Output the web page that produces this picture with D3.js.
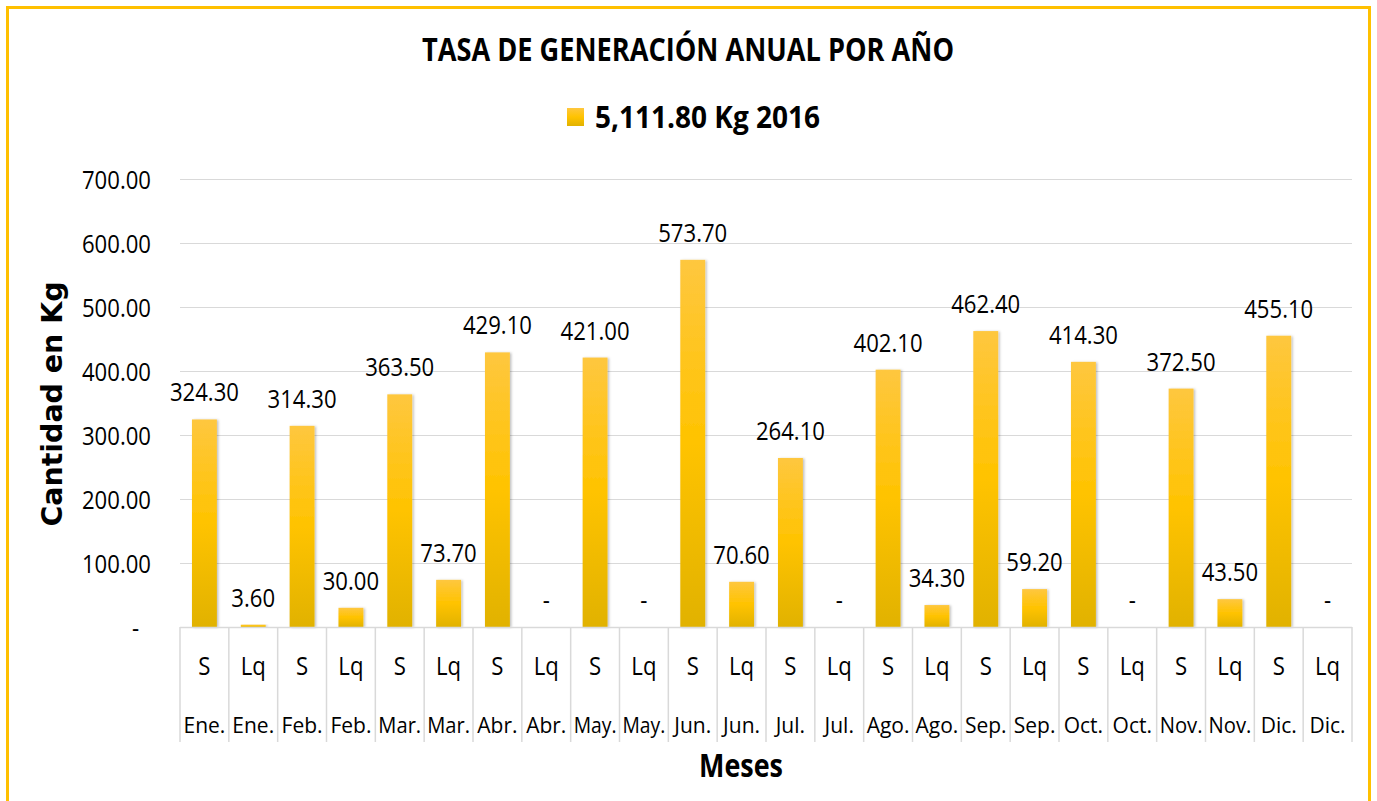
<!DOCTYPE html>
<html>
<head>
<meta charset="utf-8">
<script src="https://cdn.jsdelivr.net/npm/d3@7"></script>
<style>
  html, body { margin: 0; padding: 0; background: #ffffff; }
  svg { display: block; }
</style>
</head>
<body>
<svg id="chart" width="1377" height="801"></svg>
<script>
// ---- Data ----
const subLabels = ["S","Lq","S","Lq","S","Lq","S","Lq","S","Lq","S","Lq","S","Lq","S","Lq","S","Lq","S","Lq","S","Lq","S","Lq"];
const monthLabels = ["Ene.","Ene.","Feb.","Feb.","Mar.","Mar.","Abr.","Abr.","May.","May.","Jun.","Jun.","Jul.","Jul.","Ago.","Ago.","Sep.","Sep.","Oct.","Oct.","Nov.","Nov.","Dic.","Dic."];
const values = [324.30, 3.60, 314.30, 30.00, 363.50, 73.70, 429.10, 0, 421.00, 0, 573.70, 70.60, 264.10, 0, 402.10, 34.30, 462.40, 59.20, 414.30, 0, 372.50, 43.50, 455.10, 0];
const yTicks = [0, 100, 200, 300, 400, 500, 600, 700];
const titleText = "TASA DE GENERACIÓN ANUAL POR AÑO";
const legendText = "5,111.80 Kg 2016";
const yTitle = "Cantidad en Kg";
const xTitle = "Meses";

// ---- Layout ----
const svg = d3.select("#chart");
const plot = { left: 180, right: 1352, top: 179, bottom: 627 };
const FONT = "'Open Sans', 'Noto Sans', sans-serif";
const CONDENSE = 0.885;
const FS = 25;

function condense(sel, f, maxW) {
  sel.each(function() {
    let w = this.getComputedTextLength() * f;
    if (maxW && w > maxW) w = maxW;
    this.setAttribute("textLength", w);
    this.setAttribute("lengthAdjust", "spacingAndGlyphs");
  });
}
function fitTo(sel, w) {
  sel.attr("textLength", w).attr("lengthAdjust", "spacingAndGlyphs");
}

// defs
const defs = svg.append("defs");
const grad = defs.append("linearGradient").attr("id", "barGrad")
  .attr("x1", 0).attr("y1", 0).attr("x2", 0).attr("y2", 1);
grad.append("stop").attr("offset", "0%").attr("stop-color", "#FEC73F");
grad.append("stop").attr("offset", "50%").attr("stop-color", "#FFC300");
grad.append("stop").attr("offset", "100%").attr("stop-color", "#E1B200");
const shadow = defs.append("filter").attr("id", "shadow")
  .attr("x", "-20%").attr("y", "-5%").attr("width", "150%").attr("height", "110%");
shadow.append("feDropShadow").attr("dx", 1.5).attr("dy", 0.5)
  .attr("stdDeviation", 1).attr("flood-color", "#000").attr("flood-opacity", 0.25);

// background + border
svg.append("rect").attr("x", 0).attr("y", 0).attr("width", 1377).attr("height", 801).attr("fill", "#fff");
svg.append("rect").attr("x", 7.5).attr("y", 7.5).attr("width", 1362).attr("height", 820)
  .attr("fill", "none").attr("stroke", "#FFC000").attr("stroke-width", 3);

// scales
const x = d3.scaleBand().domain(d3.range(values.length))
  .range([plot.left, plot.right]).paddingInner(0.49).paddingOuter(0.245);
const y = d3.scaleLinear().domain([0, 700]).range([plot.bottom, plot.top]);

// gridlines
svg.append("g").selectAll("line").data(yTicks.filter(d => d > 0)).join("line")
  .attr("x1", plot.left).attr("x2", plot.right)
  .attr("y1", d => Math.round(y(d)) + 0.5).attr("y2", d => Math.round(y(d)) + 0.5)
  .attr("stroke", "#d9d9d9").attr("stroke-width", 1);

// y axis
const yAxis = svg.append("g").attr("transform", `translate(${151},0)`)
  .call(d3.axisLeft(y).tickValues(yTicks).tickSize(0).tickPadding(0)
    .tickFormat(d => d === 0 ? "-" : d3.format(".2f")(d)));
yAxis.select(".domain").remove();
yAxis.selectAll("text")
  .attr("font-family", FONT).attr("font-size", FS).attr("fill", "#000")
  .attr("dy", "0.36em")
  .attr("dx", d => d === 0 ? -12 : 0);
condense(yAxis.selectAll("text"), CONDENSE);

// bars
svg.append("g").selectAll("rect").data(values).join("rect")
  .attr("x", (d, i) => x(i)).attr("width", x.bandwidth())
  .attr("y", d => y(d)).attr("height", d => y(0) - y(d))
  .attr("fill", "url(#barGrad)").attr("filter", "url(#shadow)");

// value labels
const vl = svg.append("g").selectAll("text").data(values).join("text")
  .attr("x", (d, i) => x(i) + x.bandwidth() / 2)
  .attr("y", d => y(d) - 18)
  .attr("text-anchor", "middle")
  .attr("font-family", FONT).attr("font-size", FS).attr("fill", "#000")
  .text(d => d === 0 ? "-" : d3.format(",.2f")(d));
condense(vl, CONDENSE);

// x axis (multi-level)
const step = x.step();
const x0 = x.range()[0];
const xAxisG = svg.append("g");
xAxisG.append("line").attr("x1", x0).attr("x2", x.range()[1])
  .attr("y1", plot.bottom + 0.5).attr("y2", plot.bottom + 0.5)
  .attr("stroke", "#d9d9d9").attr("stroke-width", 1.5);
xAxisG.selectAll("line.sep").data(d3.range(values.length + 1)).join("line")
  .attr("class", "sep")
  .attr("x1", i => x0 + i * step).attr("x2", i => x0 + i * step)
  .attr("y1", plot.bottom).attr("y2", 742)
  .attr("stroke", "#d9d9d9").attr("stroke-width", 1.5);

const bottomAxis = svg.append("g").attr("transform", `translate(0,${plot.bottom})`)
  .call(d3.axisBottom(x).tickSize(0).tickPadding(0).tickFormat(i => subLabels[i]));
bottomAxis.select(".domain").remove();
bottomAxis.selectAll("text")
  .attr("y", 48).attr("dy", 0)
  .attr("font-family", FONT).attr("font-size", FS).attr("fill", "#000");
condense(bottomAxis.selectAll("text"), CONDENSE);

const ml = svg.append("g").selectAll("text").data(monthLabels).join("text")
  .attr("x", (d, i) => x(i) + x.bandwidth() / 2)
  .attr("y", 733)
  .attr("text-anchor", "middle")
  .attr("font-family", FONT).attr("font-size", 21).attr("fill", "#000")
  .text(d => d);
condense(ml, 1, step - 6);

// title
fitTo(svg.append("text").attr("x", 688).attr("y", 61).attr("text-anchor", "middle")
  .attr("font-family", FONT).attr("font-weight", 700).attr("font-size", 33).attr("fill", "#000")
  .text(titleText), 532);

// legend
svg.append("rect").attr("x", 567).attr("y", 108).attr("width", 17).attr("height", 18)
  .attr("fill", "url(#barGrad)");
fitTo(svg.append("text").attr("x", 595).attr("y", 128)
  .attr("font-family", FONT).attr("font-weight", 700).attr("font-size", 31).attr("fill", "#000")
  .text(legendText), 225);

// axis titles
fitTo(svg.append("text")
  .attr("transform", "translate(62,404) rotate(-90)")
  .attr("text-anchor", "middle")
  .attr("font-family", "'DejaVu Sans', Verdana, sans-serif").attr("font-weight", 700)
  .attr("font-size", 28).attr("fill", "#000")
  .text(yTitle), 245);

fitTo(svg.append("text").attr("x", 741).attr("y", 777).attr("text-anchor", "middle")
  .attr("font-family", FONT).attr("font-weight", 700).attr("font-size", 32).attr("fill", "#000")
  .text(xTitle), 84);
</script>
</body>
</html>
